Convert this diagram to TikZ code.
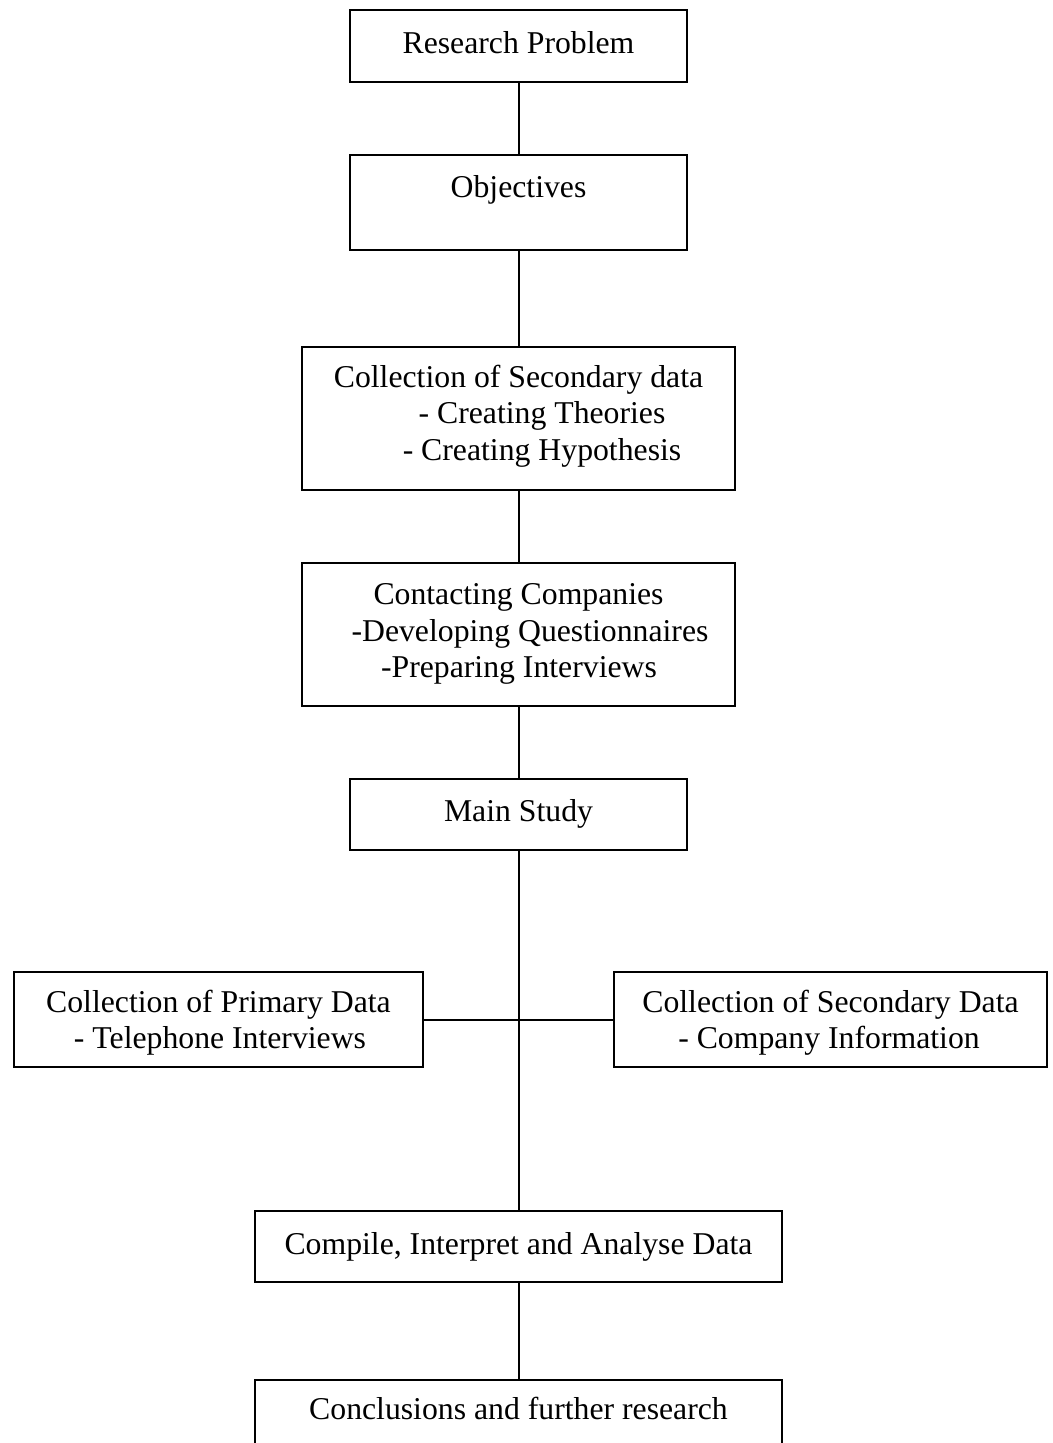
\documentclass[tikz,border=0pt]{standalone}
\usepackage{fontspec}
\setmainfont{Liberation Serif}
\usetikzlibrary{fit}
\begin{document}
\begin{tikzpicture}[x=0.75pt,y=-0.75pt,
  box/.style={draw, line width=1.5pt, inner sep=0pt},
  txt/.style={anchor=base, inner sep=0pt, font=\fontsize{23.8}{27.4}\selectfont},
  link/.style={line width=1.5pt}]
\useasboundingbox (0,0) rectangle (1053,1443);
\clip (0,0) rectangle (1053,1443);

% boxes (pixel-like coordinates, y grows downward)
\node[box, fit={(350,10) (687,82)}]    (rp)   {};
\node[box, fit={(350,155) (687,250)}]  (obj)  {};
\node[box, fit={(302,347) (735,490)}]  (csd)  {};
\node[box, fit={(302,563) (735,706)}]  (cc)   {};
\node[box, fit={(350,779) (687,850)}]  (ms)   {};
\node[box, fit={(14,972) (423,1067)}]  (prim) {};
\node[box, fit={(614,972) (1047,1067)}] (sec) {};
\node[box, fit={(255,1211) (782,1282)}] (comp) {};
\node[box, fit={(255,1380) (782,1480)}] (concl) {};

% texts
\node[txt] (t1) at (518.5,53) {Research Problem};
\node[txt] (t2) at (518.5,197) {Objectives};
\node[txt] (t3a) at (518.5,387) {Collection of Secondary data};
\node[txt] (t3b) at (542,423) {- Creating Theories};
\node[txt] (t3c) at (542,460) {- Creating Hypothesis};
\node[txt] (t4a) at (518.5,604) {Contacting Companies};
\node[txt] (t4b) at (530,641) {-Developing Questionnaires};
\node[txt] (t4c) at (519,677) {-Preparing Interviews};
\node[txt] (t5) at (518.5,821) {Main Study};
\node[txt] (t6a) at (218.5,1012) {Collection of Primary Data};
\node[txt] (t6b) at (220,1048) {- Telephone Interviews};
\node[txt] (t7a) at (830.5,1012) {Collection of Secondary Data};
\node[txt] (t7b) at (829,1048) {- Company Information};
\node[txt] (t8) at (518.5,1254) {Compile, Interpret and Analyse Data};
\node[txt] (t9) at (518.5,1419) {Conclusions and further research};

% connectors
\draw[link] (rp.south) -- (obj.north);
\draw[link] (obj.south) -- (csd.north);
\draw[link] (csd.south) -- (cc.north);
\draw[link] (cc.south) -- (ms.north);
\draw[link] (ms.south) -- (comp.north);
\draw[link] (prim.east) -- (sec.west);
\draw[link] (comp.south) -- (concl.north);
\end{tikzpicture}
\end{document}
